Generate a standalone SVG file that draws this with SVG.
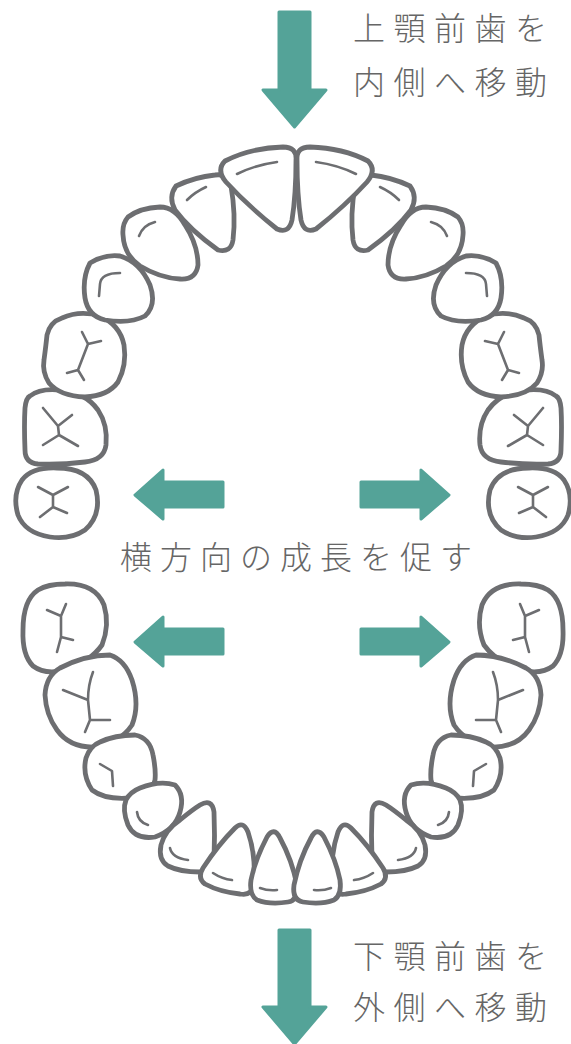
<svg xmlns="http://www.w3.org/2000/svg" xmlns:xlink="http://www.w3.org/1999/xlink" width="571" height="1044" viewBox="0 0 571 1044">
<style>
.tooth{fill:#fff;stroke:#6d6e71;stroke-width:4.8;stroke-linejoin:round}
.mark{fill:none;stroke:#6d6e71;stroke-width:2.6;stroke-linecap:round;stroke-linejoin:round}
.arrow{fill:#54a398;stroke:#54a398;stroke-width:3;stroke-linejoin:round}
.label{font-family:"Noto Sans CJK JP","Noto Sans",sans-serif;font-size:32px;fill:#666;font-weight:300}
</style>
<rect width="571" height="1044" fill="#fff"/>
<g id="upper-arch">
  <g id="upper-left">
    <g id="u-molar2"><path class="tooth" d="M57,468 Q88,468 96,490 Q102,515 85,530 Q70,540 50,537 Q25,533 18,515 Q12,495 22,480 Q32,467 57,468 Z"/><path class="mark" d="M38,487 L53,495 L68,487 M53,495 L53,507 L40,517 M53,507 L67,513"/></g>
    <g id="u-molar1"><path class="tooth" d="M30,396 Q40,388 60,390 Q85,392 98,410 Q108,425 106,445 Q104,460 85,462 Q60,465 38,464 Q25,463 25,450 Q24,425 25,408 Q26,398 30,396 Z"/><path class="mark" d="M43,408 L58,426 L72,415 M58,426 L59,435 L43,445 M59,435 L78,446"/></g>
    <g id="u-premolar2"><path class="tooth" d="M62,318 Q80,310 100,316 Q120,325 124,345 Q127,365 118,382 Q108,396 85,397 Q60,396 49,383 Q42,372 44,360 Q46,345 47,335 Q50,322 62,318 Z"/><path class="mark" d="M82,332 L88,344 L101,341 M88,344 L78,370 L67,373 M78,370 L84,380"/></g>
    <g id="u-premolar1"><path class="tooth" d="M90,263 Q105,254 120,256 Q140,262 150,285 Q157,305 145,316 Q130,324 105,320 Q88,316 85,298 Q82,278 90,263 Z"/><path class="mark" d="M99,296 L100,284 Q101,273 120,273"/></g>
    <g id="u-canine"><path class="tooth" d="M128,217 Q140,208 160,207 Q175,207 185,225 Q198,245 198,265 Q196,280 180,279 Q160,278 140,266 Q124,255 123,235 Q122,224 128,217 Z"/><path class="mark" d="M139,236 Q143,225 155,222"/></g>
    <g id="u-lateral"><path class="tooth" d="M176,186 Q195,177 215,175 Q229,173 231,186 Q236,215 233,240 Q231,253 218,250 Q190,230 175,210 Q168,197 176,186 Z"/><path class="mark" d="M187,200 Q195,192 206,187"/></g>
  </g>
  <use xlink:href="#upper-left" href="#upper-left" transform="translate(586,0) scale(-1,1)"/>
  <g id="u-central-left"><path class="tooth" d="M225,161 Q250,148 283,147 Q297,147 296,160 Q296,195 292,220 Q289,234 277,229 Q248,206 226,182 Q216,170 225,161 Z"/><path class="mark" d="M237,174 Q255,165 277,162"/></g>
  <use xlink:href="#u-central-left" href="#u-central-left" transform="translate(593,0) scale(-1,1)"/>
</g>
<g id="lower-arch">
  <g id="lower-left">
    <g id="l-molar2"><path class="tooth" d="M65,584 Q95,583 104,605 Q110,625 102,645 Q90,662 65,670 Q45,675 33,666 Q22,655 23,630 Q23,600 38,590 Q48,584 65,584 Z"/><path class="mark" d="M47,610 L61,616 L66,604 M61,616 L61,637 L73,640 M61,637 L57,652"/></g>
    <g id="l-molar1"><path class="tooth" d="M60,668 Q85,655 110,655 Q125,660 132,680 Q140,705 132,725 Q120,743 95,747 Q70,748 57,730 Q46,715 45,695 Q46,676 60,668 Z"/><path class="mark" d="M93,672 Q88,685 88,700 L63,690 M88,700 L90,720 L110,720 M90,720 L85,732"/></g>
    <g id="l-premolar2"><path class="tooth" d="M100,742 Q115,735 135,735 Q150,738 153,755 Q156,770 155,780 Q152,795 130,798 Q105,800 92,790 Q82,775 86,758 Q90,746 100,742 Z"/><path class="mark" d="M100,764 L112,771 L113,786"/></g>
    <g id="l-premolar1"><path class="tooth" d="M140,788 Q160,780 175,785 Q185,795 180,812 Q175,830 155,837 Q135,840 128,825 Q122,810 126,800 Q130,792 140,788 Z"/><path class="mark" d="M137,812 Q138,822 148,825"/></g>
    <g id="l-canine"><path class="tooth" d="M200,805 Q212,798 214,812 Q215,835 214,860 Q213,872 200,872 Q180,872 168,866 Q158,860 161,845 Q165,830 180,820 Q192,810 200,805 Z"/><path class="mark" d="M170,848 Q172,858 188,860"/></g>
    <g id="l-lateral"><path class="tooth" d="M235,828 Q243,820 248,832 Q256,855 254,885 Q252,896 240,894 Q220,892 205,884 Q197,878 203,868 Q218,845 235,828 Z"/><path class="mark" d="M213,873 Q222,879 232,880"/></g>
  </g>
  <use xlink:href="#lower-left" href="#lower-left" transform="translate(586,0) scale(-1,1)"/>
  <g id="l-central-left"><path class="tooth" d="M267,837 Q274,826 280,838 Q292,860 297,885 Q299,900 288,902 Q270,905 257,900 Q249,895 251,880 Q255,860 267,837 Z"/><path class="mark" d="M260,888 Q268,891 277,890"/></g>
  <use xlink:href="#l-central-left" href="#l-central-left" transform="translate(591,0) scale(-1,1)"/>
</g>
<g id="arrows">
  <path id="arrow-top" class="arrow" d="M279,12 L310,12 L310,90 L326,90 L294.5,127 L263,90 L279,90 Z"/>
  <path id="arrow-bottom" class="arrow" d="M279,930 L310,930 L310,1007 L326,1007 L294.5,1044 L263,1007 L279,1007 Z"/>
  <path id="arrow-left-upper" class="arrow" d="M135,495 L163,470 L163,482 L223,482 L223,507 L163,507 L163,519 Z"/>
  <path id="arrow-right-upper" class="arrow" d="M449,495 L421,470 L421,482 L361,482 L361,507 L421,507 L421,519 Z"/>
  <path id="arrow-left-lower" class="arrow" d="M135,642 L163,617 L163,629 L223,629 L223,654 L163,654 L163,666 Z"/>
  <path id="arrow-right-lower" class="arrow" d="M449,642 L421,617 L421,629 L361,629 L361,654 L421,654 L421,666 Z"/>
</g>
<g id="labels">
  <text class="label" x="353" y="40" letter-spacing="8.5">上顎前歯を</text>
  <text class="label" x="353" y="94" letter-spacing="8.5">内側へ移動</text>
  <text class="label" x="120" y="569" letter-spacing="8">横方向の成長を促す</text>
  <text class="label" x="353" y="968" letter-spacing="8.5">下顎前歯を</text>
  <text class="label" x="353" y="1019" letter-spacing="8.5">外側へ移動</text>
</g>
</svg>
